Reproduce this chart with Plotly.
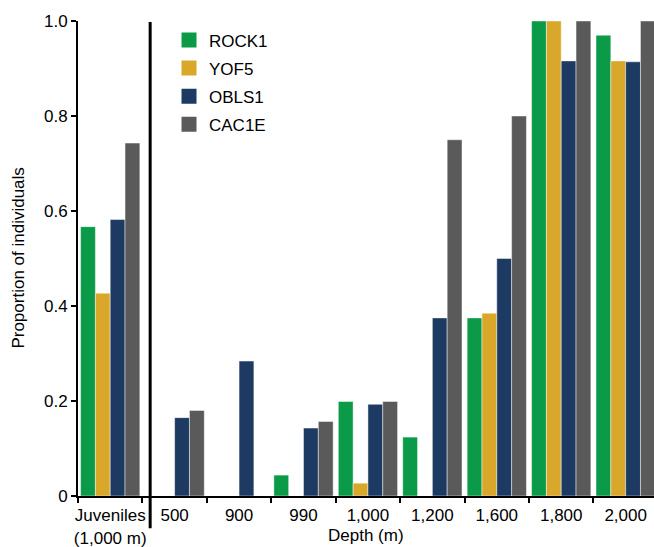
import plotly.graph_objects as go

categories = ["Juveniles<br>(1,000 m)", "500", "900", "990", "1,000", "1,200", "1,600", "1,800", "2,000"]
rock1 = [0.567, 0, 0, 0.044, 0.199, 0.124, 0.375, 1.0, 0.970]
yof5 = [0.427, 0, 0, 0, 0.027, 0, 0.385, 1.0, 0.916]
obls1 = [0.582, 0.165, 0.284, 0.143, 0.193, 0.375, 0.5, 0.916, 0.914]
cac1e = [0.743, 0.180, 0, 0.157, 0.199, 0.75, 0.8, 1.0, 1.0]

series = [
    ("ROCK1", rock1, "#0a9a48"),
    ("YOF5", yof5, "#d9a82a"),
    ("OBLS1", obls1, "#1d3a63"),
    ("CAC1E", cac1e, "#5a5a5a"),
]

FONT = "Liberation Sans, Arial, Helvetica, sans-serif"
FS = 17

fig = go.Figure()
for name, vals, col in series:
    fig.add_trace(go.Bar(
        x=categories, y=vals, name=name, showlegend=False,
        marker=dict(color=col, line=dict(color="rgba(255,255,255,0.45)", width=1)),
    ))
# legend entries with larger square swatches
for name, vals, col in series:
    fig.add_trace(go.Scatter(
        x=[None], y=[None], mode="markers", name=name, legendgroup=name,
        marker=dict(symbol="square", size=15, color=col),
    ))

fig.update_layout(
    width=654, height=547,
    margin=dict(l=78, r=0, t=21, b=51),
    paper_bgcolor="white", plot_bgcolor="white",
    barmode="group", bargap=0.08, bargroupgap=0,
    font=dict(family=FONT, size=FS, color="black"),
    showlegend=True,
    legend=dict(x=0.158, y=0.997, xanchor="left", yanchor="top",
                font=dict(size=FS), tracegroupgap=3, bgcolor="rgba(0,0,0,0)",
                itemsizing="trace"),
    xaxis=dict(
        type="category", range=[-0.5, 8.44], tickangle=0, automargin=False,
        showline=True, linecolor="black", linewidth=2,
        ticks="outside", tickson="boundaries", ticklen=5, tickwidth=2, tickcolor="black",
        showgrid=False, tickfont=dict(size=FS), ticklabelstandoff=3,
    ),
    yaxis=dict(
        range=[0, 1.0], tickvals=[0, 0.2, 0.4, 0.6, 0.8, 1.0], automargin=False,
        ticktext=["0", "0.2", "0.4", "0.6", "0.8", "1.0"],
        showline=True, linecolor="black", linewidth=2,
        ticks="outside", ticklen=5, tickwidth=2, tickcolor="black",
        showgrid=False, zeroline=False, tickfont=dict(size=FS),
    ),
)

fig.add_shape(type="line", xref="x", yref="paper", x0=0.62, x1=0.62,
              y0=-0.068, y1=0.998, line=dict(color="black", width=3))

fig.add_annotation(text="Depth (m)", xref="paper", yref="paper", x=0.5, y=-0.1045,
                   xanchor="center", yanchor="bottom", showarrow=False, borderpad=0,
                   font=dict(size=FS, color="black"))
fig.add_annotation(text="Proportion of individuals", xref="paper", yref="paper",
                   x=-0.104, y=0.5, textangle=-90, xanchor="center", yanchor="middle",
                   showarrow=False, font=dict(size=FS, color="black"))

fig.write_html("out.html")
